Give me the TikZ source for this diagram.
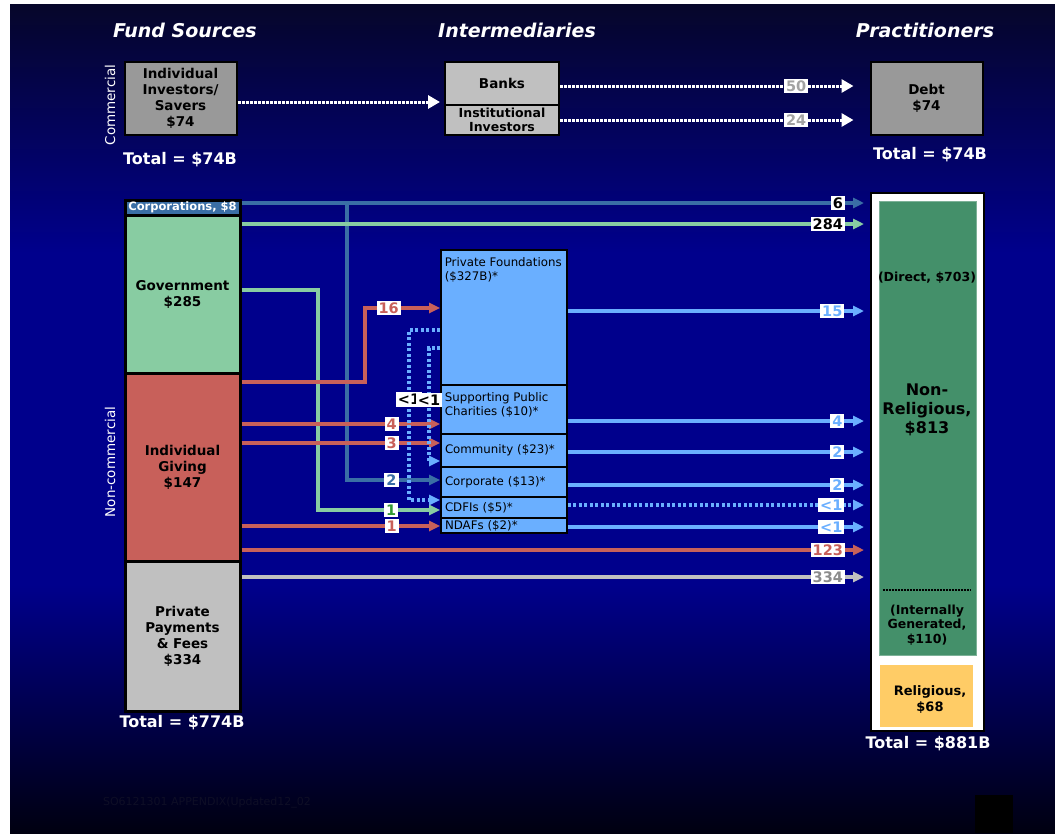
\documentclass[tikz,border=0pt]{standalone}
\usepackage{fontspec}
\setmainfont{DejaVu Sans}
\usetikzlibrary{arrows.meta,positioning,calc}

\definecolor{bgtop}{HTML}{06062A}
\definecolor{bgmid}{HTML}{00008C}
\definecolor{bgbot}{HTML}{000010}
\definecolor{corpblue}{HTML}{3A6EA5}
\definecolor{govgreen}{HTML}{88CCA2}
\definecolor{givered}{HTML}{C8605A}
\definecolor{paygray}{HTML}{C0C0C0}
\definecolor{debtgray}{HTML}{999999}
\definecolor{pfblue}{HTML}{6AAFFF}
\definecolor{npgreen}{HTML}{44906A}
\definecolor{relyellow}{HTML}{FFCC66}
\definecolor{tagred}{HTML}{C8605A}
\definecolor{taggreen}{HTML}{339933}
\definecolor{taggray}{HTML}{8C8C8C}
\definecolor{footgray}{HTML}{0E0E26}

% slide background: dark top, bright blue middle, near black bottom
\pgfdeclareverticalshading{slidebg}{100bp}{color(0bp)=(bgbot); color(25bp)=(bgbot);
  color(40bp)=(bgmid); color(60bp)=(bgmid); color(75bp)=(bgtop); color(100bp)=(bgtop)}

\begin{document}
\begin{tikzpicture}[
      x=1pt, y=-1pt,
      heading/.style={text=white, font=\bfseries\itshape\fontsize{19}{21}\selectfont},
      total/.style={text=white, font=\bfseries\fontsize{16}{18}\selectfont},
      side/.style={text=white, rotate=90, font=\fontsize{13.5}{15}\selectfont},
      srcbox/.style={draw=black, line width=3pt, inner sep=0pt, align=center,
        font=\bfseries\fontsize{13.5}{16}\selectfont},
      topbox/.style={srcbox, line width=2pt, minimum width=112pt},
      midbox/.style={draw=black, line width=1.8pt, fill=pfblue, inner sep=0pt,
        minimum width=126pt, text width=118pt, align=left,
        font=\fontsize{11.8}{14.5}\selectfont},
      midtext/.style={anchor=north west, inner sep=4.5pt, yshift=-3.5pt, align=left,
        font=\fontsize{11.8}{14.5}\selectfont},
      valtag/.style={fill=white, inner sep=2pt, font=\bfseries\fontsize{14.5}{15}\selectfont},
      flow/.style={line width=3.5pt, -{Triangle[length=11pt,width=10pt]}},
      tonp/.style={flow, shorten >=6pt},
      dotflow/.style={line width=3.5pt, dash pattern=on 3pt off 2.5pt,
        -{Triangle[length=11pt,width=10pt]}},
      wflow/.style={white, line width=3pt, dash pattern=on 3pt off 1pt,
        -{Triangle[length=12pt,width=13pt]}, shorten >=4pt},
      nptext/.style={align=center, font=\bfseries\fontsize{12.5}{14.5}\selectfont}
    ]
    \useasboundingbox (0,0) rectangle (1055,833);
    \fill[white] (0,0) rectangle (1055,833);
    \shade[shading=slidebg] (10,4) rectangle (1055,833);

    % Headings
    \node[heading] (hsrc) at (185,30) {Fund Sources};
    \node[heading] (hmid) at (517,30) {Intermediaries};
    \node[heading] (hprac) at (925,30) {Practitioners};

    % Commercial
    \node[side] (comlab) at (110,105) {Commercial};
    \node[topbox, fill=debtgray, minimum height=73pt] (inv) at (180.5,98.5)
      {Individual\\Investors/\\Savers\\\$74};
    \node[total] (totinv) at (180,160) {Total = \$74B};
    \node[topbox, fill=paygray, minimum width=114pt, minimum height=43pt] (banks) at (502,83.5) {Banks};
    \node[topbox, fill=paygray, minimum width=114pt, minimum height=30pt,
      font=\bfseries\fontsize{12.5}{13.5}\selectfont] (inst) at (502,120) {Institutional\\Investors};
    \node[topbox, fill=debtgray, minimum height=73pt] (debt) at (926.5,98.5) {Debt\\\$74};
    \node[total] (totdebt) at (930,155) {Total = \$74B};

    \draw[wflow] (inv.east |- 0,102) -- (banks.west |- 0,102);
    \draw[wflow, shorten >=16pt] (banks.east |- 0,86) -- node[valtag, pos=.763,
      text=taggray!80]{50} (debt.west |- 0,86);
    \draw[wflow, shorten >=16pt] (inst.east) -- node[valtag, pos=.763,
      text=taggray!80]{24} (debt.west |- inst.east);

    % Non-commercial sources
    \node[side] (nclab) at (110,462) {Non-commercial};
    \node[srcbox, fill=corpblue, text=white, minimum width=115pt, minimum height=15pt,
      font=\bfseries\fontsize{11.5}{12}\selectfont] (corp) at (182.5,207.5) {Corporations, \$8};
    \node[srcbox, fill=govgreen, minimum width=115pt, minimum height=158pt] (gov) at (182.5,294)
      {Government\\\$285};
    \node[srcbox, fill=givered, minimum width=115pt, minimum height=188pt] (give) at (182.5,467)
      {Individual\\Giving\\\$147};
    \node[srcbox, fill=paygray, minimum width=115pt, minimum height=150pt] (pay) at (182.5,636)
      {Private\\Payments\\\& Fees\\\$334};
    \node[total] (totsrc) at (182,723) {Total = \$774B};

    % Intermediaries
    \node[midbox, minimum height=135pt,
      label={[midtext]north west:{Private Foundations\\(\$327B)*}}] (pf) at (504,317.5) {};
    \node[midbox, minimum height=49pt,
      label={[midtext]north west:{Supporting Public\\Charities (\$10)*}}] (spc) at (504,409.5) {};
    \node[midbox, minimum height=33pt] (comm) at (504,450.5) {Community (\$23)*};
    \node[midbox, minimum height=30pt] (corpi) at (504,482) {Corporate (\$13)*};
    \node[midbox, minimum height=21pt] (cdfi) at (504,507.5) {CDFIs (\$5)*};
    \node[midbox, minimum height=15pt] (ndaf) at (504,525.5) {NDAFs (\$2)*};

    % Practitioners
    \node[draw=black, line width=2pt, fill=white, minimum width=113pt, minimum height=538pt,
      inner sep=0pt] (np) at (927.5,462) {};
    \node[fill=npgreen, draw=npgreen!70!white, minimum width=97pt, minimum height=454pt,
      inner sep=0pt] (nonrel) at (927.5,428) {};
    \node[fill=relyellow, minimum width=93pt, minimum height=62pt, inner sep=0pt] (rel)
      at (926.5,696) {};
    \node[nptext] (direct) at (927,278) {(Direct, \$703)};
    \node[nptext, font=\bfseries\fontsize{16}{19}\selectfont] (nrtext) at (927,410)
      {Non-\\Religious,\\\$813};
    \draw[black, line width=2.5pt, dash pattern=on 2pt off 1pt]
      ([xshift=4pt]nonrel.west |- 0,590) -- ([xshift=-6pt]nonrel.east |- 0,590);
    \node[nptext] (internal) at (927,625) {(Internally\\Generated,\\\$110)};
    \node[nptext, font=\bfseries\fontsize{13}{16}\selectfont] (reltext) at (930,700)
      {Religious,\\\$68};
    \node[total] (totnp) at (928,744) {Total = \$881B};

    % Corporations
    \draw[tonp, corpblue] (corp.east |- 0,203) -- node[valtag, pos=.963, anchor=east,
      text=black]{6} (np.west |- 0,203);
    \draw[flow, corpblue] (347,203) |- node[valtag, pos=.739, text=corpblue]{2}
      (corpi.west |- 0,480);

    % Government
    \draw[tonp, govgreen] (gov.east |- 0,224) -- node[valtag, pos=.963, anchor=east,
      text=black]{284} (np.west |- 0,224);
    \draw[flow, govgreen] (gov.east |- 0,290) -- (318,290) |- node[valtag, pos=.80,
      text=taggreen]{1} (cdfi.west |- 0,510);

    % Individual giving
    \draw[flow, givered] (give.east |- 0,382) -- (365,382) |- node[valtag, pos=.658,
      text=tagred]{16} (pf.west |- 0,308);
    \draw[flow, givered] (give.east |- 0,424) -- node[valtag, pos=.756, text=tagred]{4}
      (spc.west |- 0,424);
    \draw[flow, givered] (give.east |- 0,443) -- node[valtag, pos=.756, text=tagred]{3}
      (comm.west |- 0,443);
    \draw[flow, givered] (give.east |- 0,526) -- node[valtag, pos=.756, text=tagred]{1}
      (ndaf.west |- 0,526);
    \draw[tonp, givered] (give.east |- 0,550) -- node[valtag, pos=.963, anchor=east,
      text=tagred]{123} (np.west |- 0,550);

    % Private payments
    \draw[tonp, paygray] (pay.east |- 0,577) -- node[valtag, pos=.963, anchor=east,
      text=taggray]{334} (np.west |- 0,577);

    % Foundation grants to other intermediaries
    \draw[dotflow, pfblue] (pf.west |- 0,330) -- (409,330) -- node[valtag, pos=.41,
      text=black]{<1} (409,500) -- (cdfi.west |- 0,500);
    \draw[dotflow, pfblue] (pf.west |- 0,348) -- (429,348) -- node[valtag, pos=.46,
      text=black]{<1} (429,461) -- (comm.west |- 0,461);

    % Intermediaries to practitioners
    \draw[tonp, pfblue] (pf.east |- 0,311) -- node[valtag, pos=.921, anchor=east,
      text=pfblue]{15} (np.west |- 0,311);
    \draw[tonp, pfblue] (spc.east |- 0,421) -- node[valtag, pos=.921, anchor=east,
      text=pfblue]{4} (np.west |- 0,421);
    \draw[tonp, pfblue] (comm.east |- 0,452) -- node[valtag, pos=.921, anchor=east,
      text=pfblue]{2} (np.west |- 0,452);
    \draw[tonp, pfblue] (corpi.east |- 0,485) -- node[valtag, pos=.921, anchor=east,
      text=pfblue]{2} (np.west |- 0,485);
    \draw[dotflow, pfblue, shorten >=6pt] (cdfi.east |- 0,505) -- node[valtag, pos=.921,
      anchor=east, text=pfblue]{<1} (np.west |- 0,505);
    \draw[tonp, pfblue] (ndaf.east |- 0,527) -- node[valtag, pos=.921, anchor=east,
      text=pfblue]{<1} (np.west |- 0,527);

    % Footer
    \node[text=footgray, font=\fontsize{11}{13}\selectfont] (footer) at (207,803)
      {SO6121301 APPENDIX(Updated12\_02};
    \node[fill=black, minimum width=38pt, minimum height=38pt, inner sep=0pt] (corner)
      at (994,814) {};
  \end{tikzpicture}
\end{document}
